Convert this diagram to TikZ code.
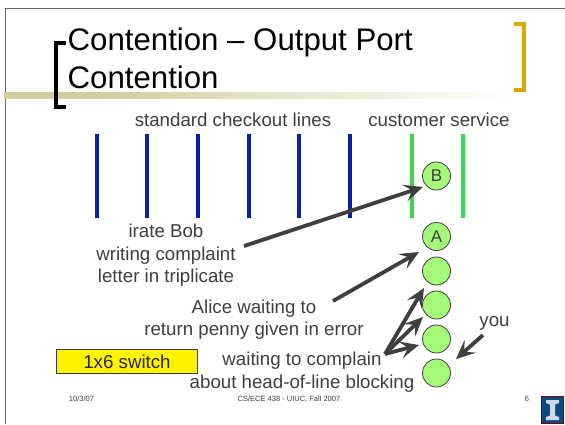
\documentclass[tikz,border=0pt]{standalone}
\usepackage{fontspec}
\setmainfont{Liberation Sans}
\usetikzlibrary{arrows.meta}
\definecolor{txt}{HTML}{3F3F3F}
\definecolor{navy}{HTML}{0A1FA8}
\definecolor{grn}{HTML}{3CD64A}
\definecolor{ball}{HTML}{A4FA78}
\definecolor{tan}{HTML}{CFCFA0}
\definecolor{gold}{HTML}{D9A900}
\definecolor{ilblue}{HTML}{0B4A7E}
\tikzset{
  lbl/.style={text=txt,font=\fontsize{18.7}{22.5}\selectfont,align=center,inner sep=0pt},
  ttl/.style={text=black,font=\fontsize{31.2}{38}\selectfont,align=left,inner sep=0pt,anchor=north west},
  foot/.style={text=txt,font=\fontsize{7.5}{9}\selectfont,inner sep=0pt},
  lane/.style={line width=4pt},
  cust/.style={circle,draw=txt,fill=ball,line width=0.8pt,minimum size=28pt,inner sep=0pt,text=txt,font=\fontsize{17}{20}\selectfont},
  arr/.style={draw=txt,line width=3.8pt,-{Stealth[length=19pt,width=17pt,inset=8pt]}},
  brk/.style={line width=4pt,miter limit=10}
}
\begin{document}
\begin{tikzpicture}[x=1pt,y=-1pt]
\useasboundingbox (0,0) rectangle (565,424);
\fill[white] (0,0) rectangle (565,424);
\draw[gray!80!black,line width=1pt] (5.5,424) -- (5.5,8) -- (565,8);
% title rule
\fill[tan] (4,92) rectangle (93,98.5);
\shade[left color=tan,right color=white] (93,92) rectangle (510,98.5);
% brackets
\draw[brk,black] (66,42.5) -- (56,42.5) -- (56,107) -- (66,107);
\draw[brk,gold] (514,23.5) -- (524,23.5) -- (524,89.5) -- (514,89.5);
\node[ttl] (title) at (67.5,28) {Contention – Output Port\\Contention};
\node[lbl] (std) at (233,120) {standard checkout lines};
\node[lbl] (cs) at (439,120) {customer service};
% lanes
\foreach \n/\x in {a/96.5,b/147,c/197.5,d/248.5,e/299,f/349.5}
  {\coordinate (\n1) at (\x,134); \coordinate (\n2) at (\x,218); \draw[lane,navy] (\n1) -- (\n2);}
\foreach \n/\x in {g/411.5,h/462.5}
  {\coordinate (\n1) at (\x,134); \coordinate (\n2) at (\x,218); \draw[lane,grn] (\n1) -- (\n2);}
% customers
\node[cust] (B) at (436.5,176) {B};
\node[cust] (A) at (436.5,236.5) {A};
\node[cust] (c1) at (436.5,271) {};
\node[cust] (c2) at (436.5,305) {};
\node[cust] (c3) at (436.5,339) {};
\node[cust] (c4) at (436.5,373) {};
% labels
\node[lbl] (bob) at (166,255.5) {irate Bob\\writing complaint\\letter in triplicate};
\node[lbl] (alice) at (254,319.5) {Alice waiting to\\return penny given in error};
\node[lbl] (wait) at (302,372) {waiting to complain\\about head-of-line blocking};
\node[lbl] (you) at (494.5,323) {you};
\node[draw=txt,fill=yellow,line width=0.8pt,minimum width=141pt,minimum height=24pt,inner sep=0pt,text=black!85,font=\fontsize{18.7}{22}\selectfont] (sw) at (127,361.5) {1x6 switch};
% arrows
\coordinate (s1) at (244,246);
\coordinate (e1) at (423,187);
\draw[arr] (s1) -- (e1);
\coordinate (s2) at (333,301);
\coordinate (e2) at (419,252);
\draw[arr] (s2) -- (e2);
\coordinate (s3) at (385,354);
\coordinate (e3a) at (424,288);
\coordinate (e3b) at (423,317);
\coordinate (e3c) at (419,345);
\draw[arr] (s3) -- (e3a);
\draw[arr] (s3) -- (e3b);
\draw[arr] (s3) -- (e3c);
\coordinate (s4) at (483,335);
\coordinate (e4) at (456,359);
\draw[arr] (s4) -- (e4);
% footer
\node[foot] (date) at (81.5,399) {10/3/07};
\node[foot] (course) at (289,399) {CS/ECE 438 - UIUC, Fall 2007};
\node[foot] (pg) at (527,399) {6};
% logo
\fill[ilblue] (541.5,396) rectangle (563.5,424);
\draw[red!50!black,line width=0.6pt] (541.5,396) rectangle (563.5,423.5);
\fill[white!80!ilblue] (546,400) -- (559,400) -- (559,403) -- (555,404.5) -- (555,415.5) -- (559,417) -- (559,420) -- (546,420) -- (546,417) -- (550,415.5) -- (550,404.5) -- (546,403) -- cycle;
\end{tikzpicture}
\end{document}
